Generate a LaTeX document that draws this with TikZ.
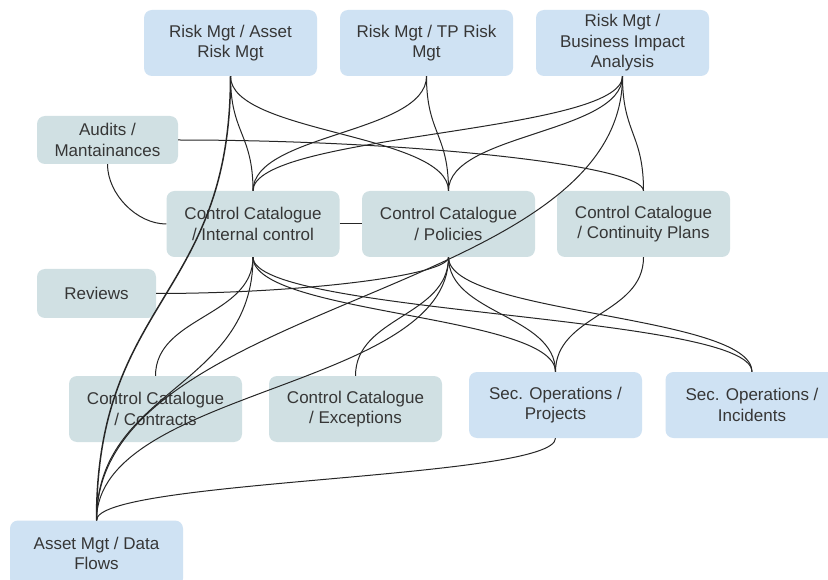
\documentclass[tikz,border=0pt]{standalone}
\usepackage{fontspec}
\setmainfont{Liberation Sans}
\usetikzlibrary{calc}
\definecolor{riskblue}{HTML}{CFE2F3}
\definecolor{ctrlgray}{HTML}{D0E0E3}
\definecolor{inktext}{HTML}{363636}
\definecolor{inkline}{HTML}{262626}
\begin{document}
\begin{tikzpicture}[x=1pt,y=-1pt,
  box/.style={rounded corners=8pt, inner sep=0pt, align=center, text=inktext,
    font=\fontsize{17}{20.5}\selectfont, minimum width=173pt, minimum height=66pt},
  blue box/.style={box, fill=riskblue},
  gray box/.style={box, fill=ctrlgray},
  link/.style={draw=inkline, line width=1pt},
  % vertical tangent at both ends, control points at half height
  vv/.style={to path={let \p1=(\tikztostart),\p2=(\tikztotarget),
      \n2={0.5*(\y1+\y2)} in
      .. controls (\x1,{\n2*1pt}) and (\x2,{\n2*1pt}) .. (\tikztotarget)}},
  % horizontal start, vertical end
  hv/.style={to path={let \p1=(\tikztostart),\p2=(\tikztotarget),
      \n1={0.5*(\x1+\x2)},\n2={0.5*(\y1+\y2)} in
      .. controls ({\n1*1pt},\y1) and (\x2,{\n2*1pt}) .. (\tikztotarget)}},
  % vertical start, horizontal end
  vh/.style={to path={let \p1=(\tikztostart),\p2=(\tikztotarget),
      \n1={0.5*(\x1+\x2)},\n2={0.5*(\y1+\y2)} in
      .. controls (\x1,{\n2*1pt}) and ({\n1*1pt},\y2) .. (\tikztotarget)}}]

\useasboundingbox (0,0) rectangle (828,580);
\fill[white] (0,0) rectangle (828,580);

% boxes
\node[blue box] (arisk) at (230.5,43) {Risk Mgt / Asset\\Risk Mgt};
\node[blue box] (tprisk) at (426.5,43) {Risk Mgt / TP Risk\\Mgt};
\node[blue box] (bia) at (622.5,43) {Risk Mgt /\\Business Impact\\Analysis};
\node[gray box, minimum width=141pt, minimum height=48pt] (audits) at (107.5,140) {Audits /\\Mantainances};
\node[gray box] (internal) at (253,224) {Control Catalogue\\/ Internal control};
\node[gray box] (policies) at (448.5,224) {Control Catalogue\\/ Policies};
\node[gray box] (continuity) at (643.5,224) {Control Catalogue\\/ Continuity Plans};
\node[gray box, minimum width=119pt, minimum height=49pt] (reviews) at (96.5,293.5) {Reviews};
\node[gray box] (contracts) at (155.5,409) {Control Catalogue\\/ Contracts};
\node[gray box] (exceptions) at (355.5,409) {Control Catalogue\\/ Exceptions};
\node[blue box] (projects) at (555.5,405) {Sec. Operations /\\Projects};
\node[blue box] (incidents) at (752,405) {Sec. Operations /\\Incidents};
\node[blue box] (dataflows) at (96.5,553.5) {Asset Mgt / Data\\Flows};

% connectors
\draw[link, line width=1.5pt] (arisk.south) to[vv] (dataflows.north);
\draw[link] (arisk.south) to[vv] (internal.north);
\draw[link] (arisk.south) to[vv] (policies.north);
\draw[link] (tprisk.south) to[vv] (internal.north);
\draw[link] (tprisk.south) to[vv] (policies.north);
\draw[link] (bia.south) to[vv] (internal.north);
\draw[link] (bia.south) to[vv] (policies.north);
\draw[link] (bia.south) to[vv] (continuity.north);
\draw[link] (bia.south) to[vv] (dataflows.north);
\draw[link] (audits.south) to[vh] (internal.west);
\draw[link] (audits.east) to[hv] (continuity.north);
\draw[link] (internal.east) -- (policies.west);
\draw[link] (reviews.east) to[hv] (policies.south);
\draw[link] (internal.south) to[vv] (contracts.north);
\draw[link] (internal.south) to[vv] (dataflows.north);
\draw[link] (internal.south) to[vv] (projects.north);
\draw[link] (internal.south) to[vv] (incidents.north);
\draw[link] (policies.south) to[vv] (exceptions.north);
\draw[link] (policies.south) to[vv] (dataflows.north);
\draw[link] (policies.south) to[vv] (projects.north);
\draw[link] (policies.south) to[vv] (incidents.north);
\draw[link] (continuity.south) to[vv] (projects.north);
\draw[link] (projects.south) to[vv] (dataflows.north);
\end{tikzpicture}
\end{document}
